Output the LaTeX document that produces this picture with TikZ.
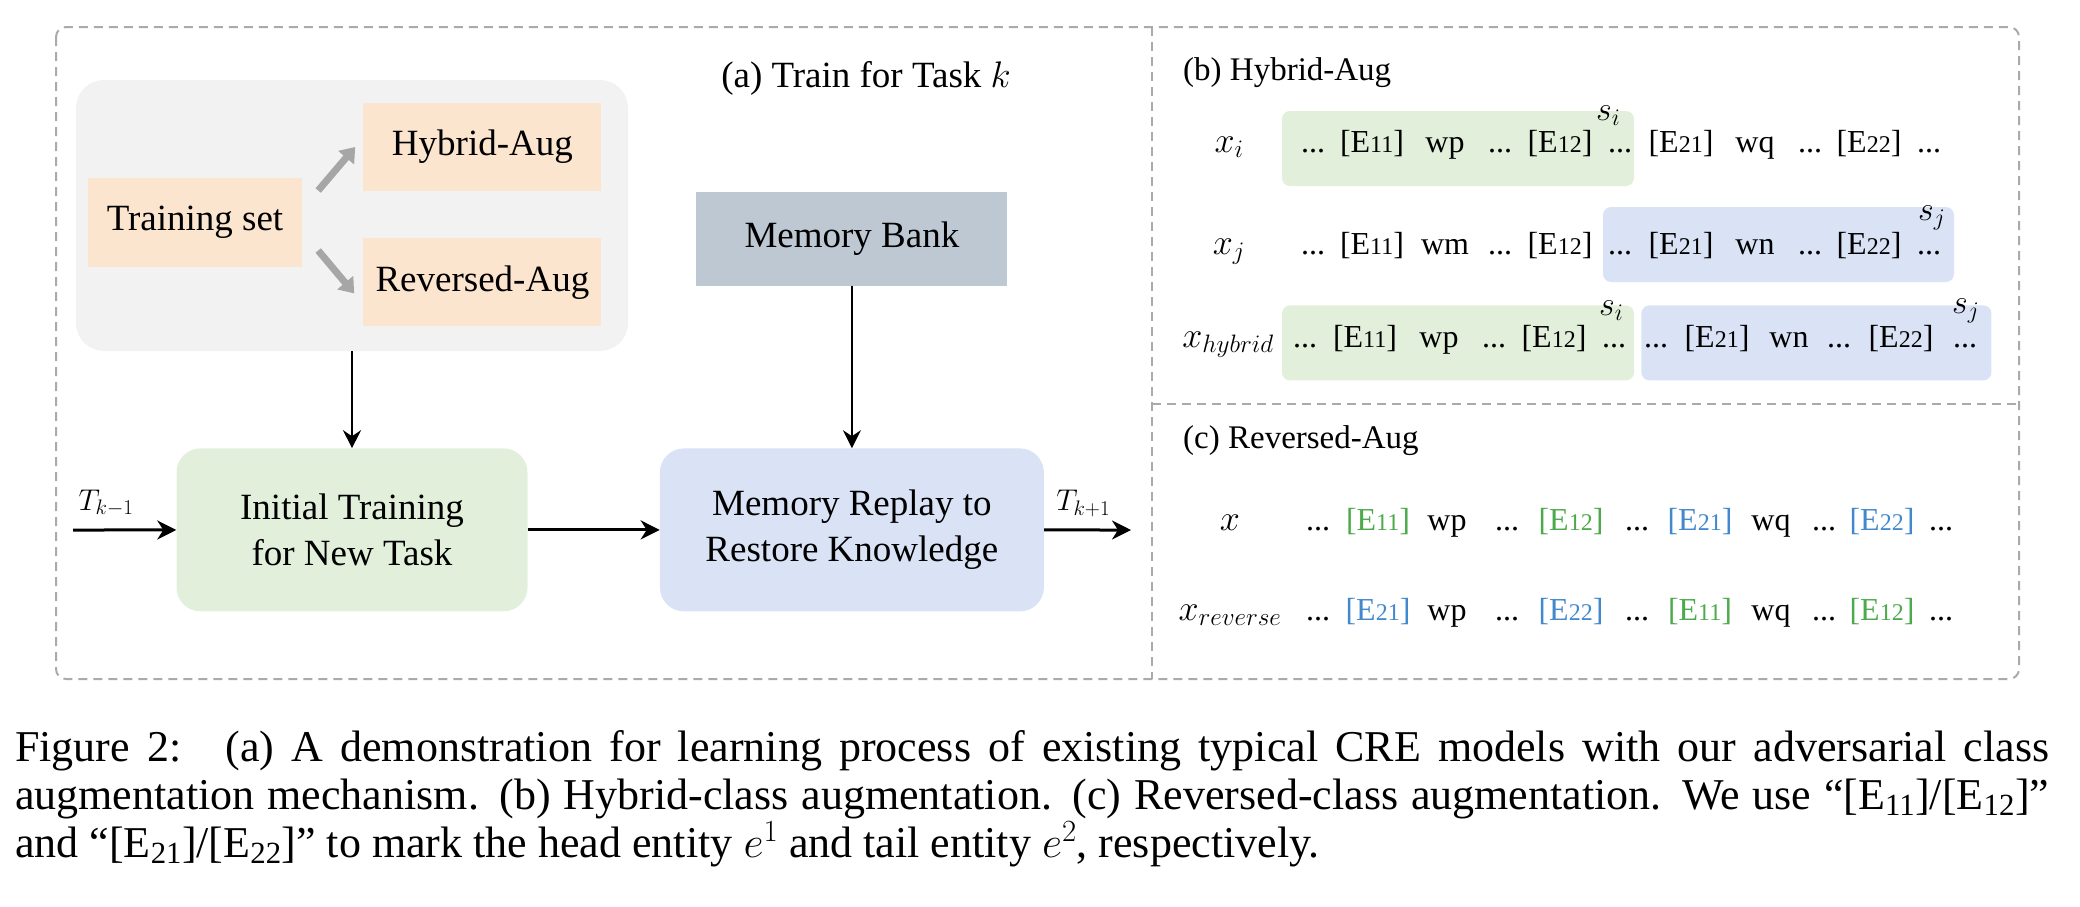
\RequirePackage{fix-cm}
\documentclass[tikz,border=0pt]{standalone}
\usepackage{fontspec}
\setmainfont{Liberation Serif}
\usetikzlibrary{arrows.meta,positioning}

\definecolor{peach}{RGB}{251,229,207}
\definecolor{grpgray}{RGB}{242,242,242}
\definecolor{bankgray}{RGB}{190,200,211}
\definecolor{initgreen}{RGB}{226,239,218}
\definecolor{replayblue}{RGB}{218,227,245}
\definecolor{egreen}{RGB}{76,170,76}
\definecolor{eblue}{RGB}{66,136,204}
\definecolor{framegray}{RGB}{170,170,170}
\definecolor{arrgray}{RGB}{166,166,166}

\newcommand{\ent}[1]{[E{\fontsize{24}{24}\selectfont #1}]}
\newcommand{\gent}[1]{\textcolor{egreen}{\ent{#1}}}
\newcommand{\bent}[1]{\textcolor{eblue}{\ent{#1}}}

\begin{document}
\begin{tikzpicture}[x=1pt, y=-1pt, font=\fontsize{37}{46}\selectfont,
	   frame/.style={draw=framegray, line width=2pt, dash pattern=on 9pt off 6pt},
	   box/.style={inner sep=0pt, align=center},
	   aug/.style={box, fill=peach, minimum width=238pt, minimum height=88pt},
	   task/.style={box, rounded corners=24pt, minimum width=351pt, minimum height=163pt},
	   hl/.style={rounded corners=8pt, minimum height=75pt, inner sep=0pt},
	   tok/.style={font=\fontsize{32}{32}\selectfont, inner sep=0pt, anchor=base},
	   var/.style={font=\fontsize{36}{36}\selectfont, inner sep=0pt, anchor=base},
	   sec/.style={font=\fontsize{33}{33}\selectfont, inner sep=0pt, anchor=base west},
	   flow/.style={-{Stealth[length=19pt, width=19pt, inset=6pt]}, line width=3pt},
	   feed/.style={-{Stealth[length=18pt, width=18pt, inset=6pt]}, line width=2pt},
	   fork/.style={-{Triangle[length=14pt, width=20pt]}, line width=7pt, draw=arrgray}]
	  \useasboundingbox (0,0) rectangle (2080,906);
	  \draw[frame, rounded corners=10pt] (56,27) rectangle (2019,679);
	  \draw[frame] (1152,27) -- (1152,679);
	  \draw[frame] (1152,404) -- (2019,404);

	  \node[anchor=base, inner sep=0pt] (title) at (866,87) {(a) Train for Task $k$};
	  \node[fill=grpgray, rounded corners=28pt, minimum width=552pt, minimum height=271pt, inner sep=0pt] (grp) at (352,215.5) {};
	  \node[aug, minimum width=214pt, minimum height=89pt] (train) at (195,222.5) {Training set};
	  \node[aug, right=61pt of train, yshift=75.5pt] (hyb) {Hybrid-Aug};
	  \node[aug, below=47pt of hyb] (rev) {Reversed-Aug};
	  \draw[fork] ([xshift=16pt, yshift=32pt]train.east) -- ([xshift=-8pt]hyb.west);
	  \draw[fork] ([xshift=16pt, yshift=-28pt]train.east) -- ([xshift=-9pt, yshift=-11pt]rev.west);

	  \node[task, fill=initgreen, below=97pt of grp] (init) {Initial Training\\for New Task};
	  \node[task, fill=replayblue, minimum width=384pt, right=132pt of init] (replay) {Memory Replay to\\Restore Knowledge};
	  \node[box, fill=bankgray, minimum width=311pt, minimum height=94pt, above=162pt of replay] (bank) {Memory Bank};
	  \coordinate (tin) at (73,530);
	  \coordinate (tout) at (1131,530);
	  \draw[feed] (grp) -- (init);
	  \draw[feed] (bank) -- (replay);
	  \draw[flow] (tin) -- (init) node[pos=0.32, above=12pt, inner sep=0pt, font=\fontsize{30}{30}\selectfont] (tprev) {$T_{k-1}$};
	  \draw[flow] (init) -- (replay);
	  \draw[flow] (replay) -- (tout) node[pos=0.45, above=12pt, inner sep=0pt, font=\fontsize{30}{30}\selectfont] (tnext) {$T_{k+1}$};

	  \node[sec] (hybtitle) at (1183,80) {(b) Hybrid-Aug};
	  \node[hl, fill=initgreen, minimum width=352pt] (gi) at (1458,148.5) {};
	  \node[hl, fill=replayblue, minimum width=351pt] (bj) at (1778.5,244.5) {};
	  \node[hl, fill=initgreen, minimum width=352pt, below=119pt of gi] (gh) {};
	  \node[hl, fill=replayblue, minimum width=350pt, right=7pt of gh] (bh) {};
	  \node[var] (xi) at (1229,152.5) {$x_i$};
	  \node[var] (xj) at (1229,254.5) {$x_j$};
	  \node[var] (xh) at (1228,347.5) {$x_{hybrid}$};
	  \node[var, font=\fontsize{34}{34}\selectfont, anchor=base west] (si) at (1596,120) {$s_i$};
	  \node[var, font=\fontsize{34}{34}\selectfont, anchor=base west] (sj) at (1918,220) {$s_j$};
	  \node[var, font=\fontsize{34}{34}\selectfont, anchor=base west] (shi) at (1599,315) {$s_i$};
	  \node[var, font=\fontsize{34}{34}\selectfont, anchor=base west] (shj) at (1952,313) {$s_j$};
	  \foreach \tk/\px [count=\n] in {{...}/1313, {\ent{11}}/1372, {wp}/1445, {...}/1500, {\ent{12}}/1560, {...}/1620,
	      {\ent{21}}/1681, {wq}/1755, {...}/1810, {\ent{22}}/1869, {...}/1929}
	    \node[tok] (ti-\n) at (\px,152.5) {\tk};
	  \foreach \tk/\px [count=\n] in {{...}/1313, {\ent{11}}/1372, {wm}/1445, {...}/1500, {\ent{12}}/1560, {...}/1620,
	      {\ent{21}}/1681, {wn}/1755, {...}/1810, {\ent{22}}/1869, {...}/1929}
	    \node[tok] (tj-\n) at (\px,254.5) {\tk};
	  \foreach \tk/\px [count=\n] in {{...}/1305, {\ent{11}}/1365, {wp}/1439, {...}/1494, {\ent{12}}/1554, {...}/1614,
	      {...}/1656, {\ent{21}}/1717, {wn}/1789, {...}/1839, {\ent{22}}/1901, {...}/1965}
	    \node[tok] (th-\n) at (\px,347.5) {\tk};

	  \node[sec] (revtitle) at (1183,448) {(c) Reversed-Aug};
	  \node[var] (xo) at (1230,530) {$x$};
	  \node[var] (xr) at (1230,620) {$x_{reverse}$};
	  \foreach \tk/\px [count=\n] in {{...}/1318, {\gent{11}}/1378, {wp}/1447, {...}/1507, {\gent{12}}/1571, {...}/1637,
	      {\bent{21}}/1700, {wq}/1771, {...}/1824, {\bent{22}}/1882, {...}/1941}
	    \node[tok] (to-\n) at (\px,530) {\tk};
	  \foreach \tk/\px [count=\n] in {{...}/1318, {\bent{21}}/1378, {wp}/1447, {...}/1507, {\bent{22}}/1571, {...}/1637,
	      {\gent{11}}/1700, {wq}/1771, {...}/1824, {\gent{12}}/1882, {...}/1941}
	    \node[tok] (tr-\n) at (\px,620) {\tk};

	  \node[anchor=base west, inner sep=0pt, text width=2034pt, align=justify, font=\fontsize{44}{48}\selectfont] (cap) at (15,761)
	    {Figure 2:~ (a) A demonstration for learning process of existing typical CRE models with our adversarial class\linebreak
	     augmentation mechanism. (b) Hybrid-class augmentation. (c) Reversed-class augmentation. We use ``[E\textsubscript{11}]/[E\textsubscript{12}]''\linebreak
	     and ``[E\textsubscript{21}]/[E\textsubscript{22}]'' to mark the head entity $e^1$ and tail entity $e^2$, respectively.};
	\end{tikzpicture}
\end{document}
